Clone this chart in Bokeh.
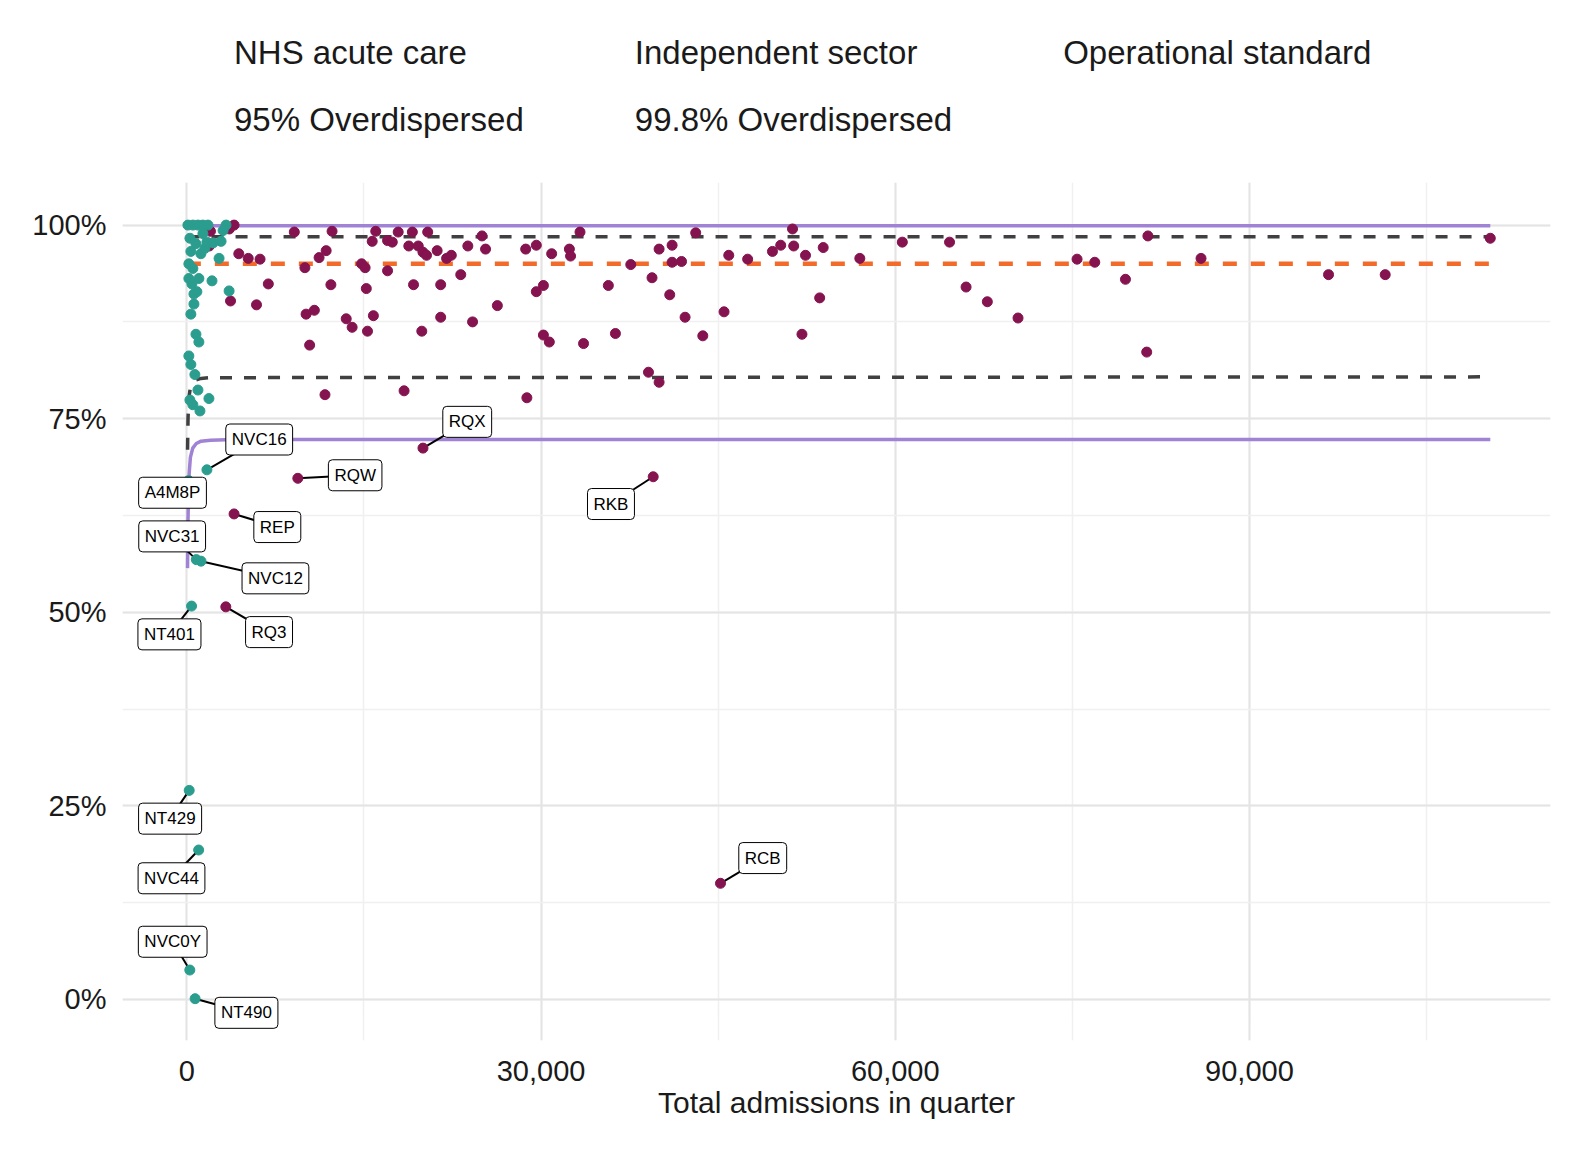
from bokeh.plotting import figure
from bokeh.models import (Legend, LegendItem, Label, SingleIntervalTicker,
                          NumeralTickFormatter, CustomJSTickFormatter, Range1d)
from bokeh.layouts import column
from bokeh.embed import file_html
from bokeh.resources import INLINE

# ---- data ----
nhs_x = [2000,4000,3600,1900,4400,5200,6200,3700,5900,6900,9100,10000,10800,10100,10400,11200,11800,12300,12200,11700,
         13500,14000,14800,15100,15200,15300,15800,15700,16000,17000,17000,17400,17900,18400,18800,19100,19200,19600,19900,20000,
         20400,20300,21200,21500,21500,22000,22400,23200,23800,24200,25000,25300,26300,28800,28700,29600,29600,30200,30200,30700,
         30900,32400,32500,33300,33600,35700,36300,37600,39100,39400,40000,40000,40900,41100,41100,41900,42200,43100,43700,45500,
         45900,47500,49600,50300,51300,51400,52100,52400,53600,53900,57000,60600,64600,66000,67800,70400,75400,76900,79500,81300,
         81400,85900,96700,101500,110400]
nhs_y = [99.2,100,99.5,97.3,96.3,95.7,95.6,90.2,89.7,92.4,99.1,94.5,89.0,88.5,84.5,95.8,96.7,99.2,92.3,78.1,
         87.9,86.8,95.0,94.5,91.8,86.3,88.3,97.9,99.2,98.0,94.1,97.8,99.1,78.6,97.3,99.1,92.3,97.3,86.3,96.5,
         99.1,96.1,96.7,88.1,92.3,95.7,96.1,93.6,97.3,87.5,98.6,96.9,89.6,77.7,96.9,97.4,91.4,92.2,85.8,84.9,
         96.3,96.9,96.0,99.1,84.7,92.2,86.0,94.9,81.0,93.2,79.7,96.9,91.0,97.4,95.2,95.3,88.1,99.0,85.7,88.8,
         96.1,95.6,96.6,97.4,99.5,97.3,85.9,96.1,90.6,97.1,95.7,97.8,97.8,92.0,90.1,88.0,95.6,95.2,93.0,83.6,
         98.6,95.7,93.6,93.6,98.3]
ind_x = [90,515,940,1360,1790,3320,3070,2900,2730,2130,3580,600,340,770,1020,170,340,680,940,260,
         510,1110,1870,600,850,430,170,1190,1530,770,260,1360,340,510,1020,1700,2220,170]
ind_y = [100.0,100.0,100.0,100.0,100.0,100.0,99.3,97.9,95.7,92.8,91.5,89.8,88.5,85.9,84.9,83.1,82.0,80.7,78.7,77.4,
         76.8,76.0,77.6,91.1,91.4,92.4,95.0,96.3,97.0,97.6,98.3,98.9,96.6,94.4,93.1,97.8,97.7,93.1]

lab_names = ["NVC16","A4M8P","REP","RQW","RQX","RKB","NVC31","NVC12","NT401","RQ3","NT429","NVC44","NVC0Y","NT490","RCB"]
lab_x = [1700,150,4000,9400,20000,39500,800,1200,400,3300,200,1000,250,700,45200]
lab_y = [68.4,67.0,62.7,67.3,71.2,67.5,56.8,56.6,50.8,50.7,27.0,19.3,3.8,0.1,15.0]
lab_grp = ["ind","ind","nhs","nhs","nhs","nhs","ind","ind","ind","nhs","ind","ind","ind","ind","nhs"]
lab_dx = [52,-16,43,57,44,-42,-24,74,-22,43,-19,-27,-17,51,42]
lab_dy = [-30,12,13,-3,-26,27,-23,17,28,25,28,28,-28,14,-25]

lim_x = [60,100,150,200,300,500,800,1200,2000,4000,110400]
upper998 = [99.9]*11
lower998 = [55.7,62.0,66.0,68.0,70.0,71.2,71.8,72.1,72.2,72.3,72.3]
upper95 = [98.5]*11
lower95 = [71.0,75.0,77.0,78.0,79.0,79.6,80.0,80.2,80.3,80.3,80.4]
op_x = [0,110400]
op_y = [95,95]

NHS = "#84134f"; IND = "#2a9d8f"; ORA = "#f26b2a"; DARK = "#404040"; PUR = "#a083d4"
FONT = "Liberation Sans"

# ---- main plot ----
p = figure(width=1558, height=962, output_backend="svg", toolbar_location=None,
           x_range=Range1d(-5450, 115500), y_range=Range1d(-5.3, 105.5),
           min_border_left=122, min_border_right=8, min_border_bottom=92, min_border_top=12)
p.outline_line_color = None

p.line(lim_x, lower998, line_color=PUR, line_width=3.5)
p.line(lim_x, upper998, line_color=PUR, line_width=3.5)
p.line(lim_x, lower95, line_color=DARK, line_width=3.5, line_dash="12 12")
p.line(lim_x, upper95, line_color=DARK, line_width=3.5, line_dash="12 12")
p.line(op_x, op_y, line_color=ORA, line_width=4.5, line_dash="14 14")
p.scatter(nhs_x, nhs_y, size=10, color=NHS)
p.scatter(ind_x, ind_y, size=10, color=IND)

xs_per_px = 1 / 0.01174
ys_per_px = 1 / 7.67
for n, x, y, g, dx, dy in zip(lab_names, lab_x, lab_y, lab_grp, lab_dx, lab_dy):
    lx = x + dx * xs_per_px
    ly = y - dy * ys_per_px
    p.segment(x0=[x], y0=[y], x1=[lx], y1=[ly], line_color="black", line_width=2)
    p.scatter([x], [y], size=10, color=NHS if g == "nhs" else IND)
    p.add_layout(Label(x=lx, y=ly, text=n, text_align="center", text_baseline="middle",
                       text_font=FONT, text_font_size="17px", text_color="black",
                       background_fill_color="white", border_line_color="black", border_line_width=1,
                       padding=6, border_radius=4))

p.xaxis.ticker = SingleIntervalTicker(interval=30000, num_minor_ticks=2)
p.yaxis.ticker = SingleIntervalTicker(interval=25, num_minor_ticks=2)
p.xaxis.formatter = NumeralTickFormatter(format="0,0")
p.yaxis.formatter = CustomJSTickFormatter(code="return tick + '%';")
for ax in (p.xaxis, p.yaxis):
    ax.axis_line_color = None
    ax.major_tick_line_color = None
    ax.minor_tick_line_color = None
    ax.major_label_text_font = FONT
    ax.major_label_text_font_size = "29px"
    ax.major_label_text_color = "#1a1a1a"
p.xaxis.axis_label = "Total admissions in quarter"
p.xaxis.axis_label_text_font = FONT
p.xaxis.axis_label_text_font_size = "30px"
p.xaxis.axis_label_text_font_style = "normal"
p.xaxis.axis_label_text_color = "#1a1a1a"
p.xaxis.axis_label_standoff = 2
p.xaxis.major_label_standoff = 14
p.yaxis.major_label_standoff = 10
p.grid.grid_line_color = "#e4e4e4"
p.grid.grid_line_width = 2
p.grid.minor_grid_line_color = "#f0f0f0"
p.grid.minor_grid_line_width = 1.5

# ---- legend figure ----
lf = figure(width=1558, height=170, output_backend="svg", toolbar_location=None,
            x_range=Range1d(0, 1), y_range=Range1d(0, 1), min_border=0)
lf.axis.visible = False
lf.grid.visible = False
lf.outline_line_color = None
g1 = lf.scatter([], [], size=36, color=NHS)
g2 = lf.scatter([], [], size=36, color=IND)
g3 = lf.line([], [], line_color=ORA, line_width=4.5, line_dash="14 14")
g4 = lf.line([], [], line_color=DARK, line_width=4.5, line_dash="14 14")
g5 = lf.line([], [], line_color=PUR, line_width=4.5)
leg = Legend(items=[LegendItem(label="NHS acute care", renderers=[g1]),
                    LegendItem(label="Independent sector", renderers=[g2]),
                    LegendItem(label="Operational standard", renderers=[g3]),
                    LegendItem(label="95% Overdispersed", renderers=[g4]),
                    LegendItem(label="99.8% Overdispersed", renderers=[g5])],
             orientation="horizontal", ncols=3, label_text_font=FONT,
             label_text_font_size="33px", label_text_color="#1a1a1a",
             glyph_width=62, glyph_height=40, label_height=40,
             spacing=27, padding=0, margin=0, border_line_color=None,
             background_fill_alpha=0, location=(28, 30), label_standoff=22)
lf.add_layout(leg, "center")

open("out.html", "w").write(file_html(column(lf, p, spacing=0), INLINE))
